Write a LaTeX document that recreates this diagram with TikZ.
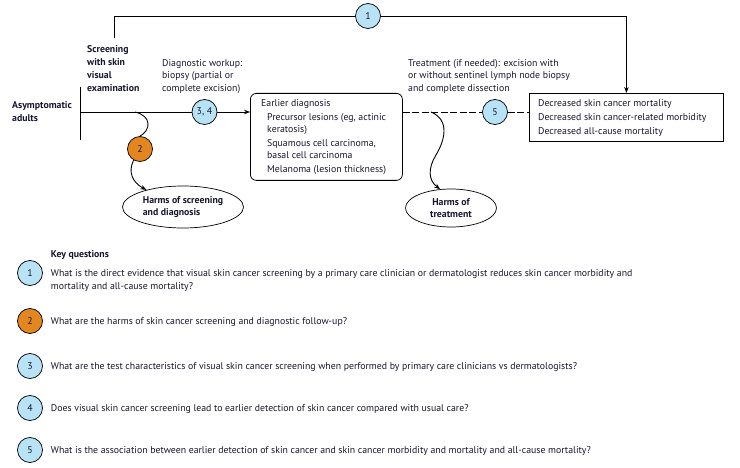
\documentclass[tikz,border=0pt]{standalone}
\usepackage{fontspec}
\setmainfont{PT Sans}
\usetikzlibrary{arrows.meta,shapes.geometric}
\definecolor{qblue}{RGB}{184,226,246}
\definecolor{qorange}{RGB}{228,134,32}
\definecolor{ink}{RGB}{22,22,45}
\begin{document}
\begin{tikzpicture}[x=1pt,y=-1pt,
  font=\fontsize{9.8}{12.5}\selectfont, text=ink,
  every node/.style={inner sep=0pt},
  line/.style={draw=black, line width=0.9pt},
  arr/.style={line, -{Stealth[length=6pt,width=4.5pt]}},
  dline/.style={line, dash pattern=on 7pt off 2.5pt},
  kq/.style={circle, draw=black, line width=0.7pt, fill=qblue, minimum size=25pt, inner sep=0pt},
  kqo/.style={kq, fill=qorange},
  txt/.style={anchor=north west, align=left},
  harm/.style={ellipse, draw=black, line width=0.7pt, font=\fontsize{9.8}{12}\selectfont\bfseries},
  boxr/.style={draw=black, line width=0.8pt, rounded corners=6pt},
  boxs/.style={draw=black, line width=0.8pt}
]
\useasboundingbox (0,0) rectangle (740,468);

% left
\node[txt, font=\fontsize{9.8}{13}\selectfont\bfseries] (adults) at (12,101) {Asymptomatic\\adults};
\coordinate (bartop) at (80,87);
\coordinate (barbot) at (80,140);
\draw[line] (bartop) -- (barbot);
\coordinate (start) at (80,112);

\node[txt, font=\fontsize{9.8}{13}\selectfont\bfseries] (screen) at (87,45) {Screening\\with skin\\visual\\examination};
\node[txt] (diag) at (162,59) {Diagnostic workup:\\biopsy (partial or\\complete excision)};
\node[txt] (treat) at (408,59) {Treatment (if needed): excision with\\or without sentinel lymph node biopsy\\and complete dissection};

% boxes
\node[boxr, minimum width=152pt, minimum height=87pt, anchor=north west] (dx) at (250,93) {};
\node[txt, font=\fontsize{9.8}{12}\selectfont] (dxt) at (261,99) {Earlier diagnosis\\[2pt]
\hspace*{6pt}Precursor lesions (eg, actinic\\
\hspace*{6pt}keratosis)\\[2pt]
\hspace*{6pt}Squamous cell carcinoma,\\
\hspace*{6pt}basal cell carcinoma\\[2pt]
\hspace*{6pt}Melanoma (lesion thickness)};

\node[boxs, minimum width=194pt, minimum height=48pt, anchor=north west] (res) at (529,93) {};
\node[txt, font=\fontsize{9.8}{14}\selectfont] (rest) at (538,99) {Decreased skin cancer mortality\\Decreased skin cancer-related morbidity\\Decreased all-cause mortality};

% harms ellipses
\node[harm, minimum width=121pt, minimum height=42pt, align=left] (h1) at (183,207) {Harms of screening\\and diagnosis};
\node[harm, minimum width=91pt, minimum height=38pt, align=center] (h2) at (451,208) {Harms of\\treatment};

% circles on paths
\node[kq] (c1) at (368,16) {1};
\node[kq] (c34) at (204.5,112) {3, 4};
\node[kqo] (c2) at (140,149) {2};
\node[kq] (c5) at (495,112) {5};

% connectors
\draw[line] (start) -- (c34.west);
\draw[arr] (c34.east) -- (c34.east -| dx.west);
\coordinate (topstart) at (114,38);
\draw[line] (topstart) |- (c1.west);
\draw[arr] (c1.east) -| (res.north);
\draw[dline] (c34.east -| dx.east) -- (c5.west);
\draw[dline] (c5.east) -- (c5.east -| res.west);

\coordinate (h1s) at (135,112);
\draw[line] (h1s) .. controls (152,116) and (151,130) .. (c2.north);
\draw[arr] (c2.-120) .. controls (128,172) and (132,182) .. (h1.155);
\coordinate (h2s) at (431,112);
\coordinate (h2m) at (436,155);
\draw[line] (h2s) .. controls (450,120) and (445,140) .. (h2m);
\draw[arr] (h2m) .. controls (428,168) and (428,180) .. (h2.120);

% key questions
\node[txt, font=\fontsize{9.8}{12.5}\selectfont\bfseries] (kqt) at (50.7,250) {Key questions};
\node[kq] (k1) at (30,273) {1};
\node[kqo] (k2) at (30,321) {2};
\node[kq] (k3) at (30,366) {3};
\node[kq] (k4) at (30,408) {4};
\node[kq] (k5) at (30,450) {5};
\node[txt, font=\fontsize{9.8}{13}\selectfont] (q1) at (50.7,269) {What is the direct evidence that visual skin cancer screening by a primary care clinician or dermatologist reduces skin cancer morbidity and\\mortality and all-cause mortality?};
\node[txt] (q2) at (50.7,317) {What are the harms of skin cancer screening and diagnostic follow-up?};
\node[txt] (q3) at (50.7,362) {What are the test characteristics of visual skin cancer screening when performed by primary care clinicians vs dermatologists?};
\node[txt] (q4) at (50.7,404) {Does visual skin cancer screening lead to earlier detection of skin cancer compared with usual care?};
\node[txt] (q5) at (50.7,446) {What is the association between earlier detection of skin cancer and skin cancer morbidity and mortality and all-cause mortality?};
\end{tikzpicture}
\end{document}
